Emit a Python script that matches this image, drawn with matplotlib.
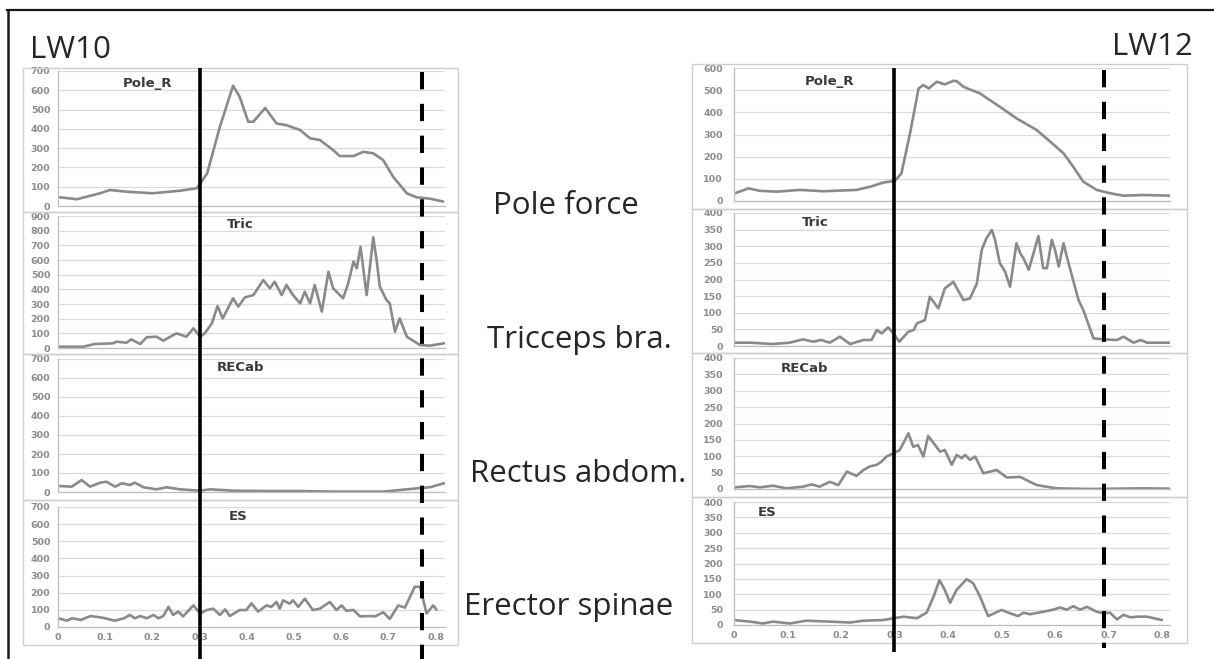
import matplotlib
matplotlib.use("Agg")
import matplotlib.pyplot as plt
from matplotlib.lines import Line2D
from matplotlib.patches import Rectangle

# ---------------------------------------------------------------- data
# LW10 (left column): time [s] and signal values
lw10_pole_t = [0.004, 0.04, 0.089, 0.11, 0.146, 0.20, 0.258, 0.294, 0.316, 0.343, 0.371, 0.385,
               0.403, 0.414, 0.439, 0.463, 0.484, 0.513, 0.534, 0.555, 0.583, 0.597, 0.626,
               0.647, 0.668, 0.689, 0.710, 0.739, 0.760, 0.788, 0.816]
lw10_pole_v = [45, 35, 66, 83, 74, 66, 79, 92, 169, 411, 624, 566, 437, 437, 508, 428, 419, 394,
               351, 342, 290, 259, 259, 281, 273, 238, 152, 66, 45, 38, 23]

lw10_tric_t = [0.0, 0.054, 0.077, 0.117, 0.124, 0.145, 0.155, 0.174, 0.188, 0.209, 0.223, 0.251,
               0.272, 0.287, 0.301, 0.311, 0.326, 0.338, 0.349, 0.371, 0.382, 0.396, 0.414,
               0.435, 0.449, 0.459, 0.474, 0.484, 0.498, 0.513, 0.523, 0.534, 0.544, 0.559,
               0.573, 0.583, 0.604, 0.615, 0.626, 0.633, 0.641, 0.654, 0.661, 0.668, 0.675,
               0.682, 0.696, 0.703, 0.714, 0.724, 0.739, 0.767, 0.788, 0.818]
lw10_tric_v = [9, 9, 27, 32, 43, 36, 59, 27, 73, 77, 50, 100, 77, 134, 77, 100, 168, 286, 202,
               339, 282, 345, 361, 463, 407, 452, 361, 430, 361, 304, 384, 304, 430, 248, 520,
               407, 339, 441, 589, 543, 690, 361, 554, 754, 600, 418, 327, 304, 111, 202, 77,
               20, 16, 32]

lw10_rec_t = [0.0, 0.029, 0.05, 0.068, 0.089, 0.103, 0.121, 0.135, 0.152, 0.163, 0.181, 0.209,
              0.23, 0.258, 0.30, 0.322, 0.371, 0.442, 0.513, 0.583, 0.689, 0.76, 0.788, 0.818]
lw10_rec_v = [32, 28, 63, 28, 49, 54, 28, 46, 37, 49, 25, 14, 25, 14, 7, 14, 7, 5, 5, 2, 2, 19,
              25, 46]

lw10_es_t = [0.0, 0.019, 0.03, 0.048, 0.069, 0.09, 0.10, 0.12, 0.14, 0.152, 0.163, 0.174, 0.188,
             0.202, 0.213, 0.223, 0.234, 0.244, 0.255, 0.265, 0.287, 0.301, 0.315, 0.329, 0.343,
             0.354, 0.364, 0.385, 0.399, 0.41, 0.424, 0.442, 0.452, 0.463, 0.47, 0.477, 0.491,
             0.498, 0.509, 0.523, 0.54, 0.555, 0.576, 0.59, 0.601, 0.611, 0.626, 0.64, 0.661,
             0.672, 0.689, 0.703, 0.721, 0.735, 0.756, 0.767, 0.781, 0.795, 0.802]
lw10_es_v = [51, 37, 51, 41, 64, 56, 51, 37, 51, 70, 51, 64, 51, 70, 51, 64, 117, 70, 90, 62,
             126, 79, 99, 107, 70, 103, 64, 99, 99, 138, 90, 126, 117, 146, 107, 156, 136, 156,
             117, 165, 99, 107, 146, 99, 126, 95, 99, 62, 64, 62, 86, 47, 126, 113, 235, 235,
             79, 126, 101]

# LW12 (right column)
lw12_pole_t = [0.002, 0.027, 0.048, 0.08, 0.123, 0.167, 0.229, 0.254, 0.279, 0.301, 0.313, 0.329,
               0.345, 0.354, 0.364, 0.379, 0.394, 0.41, 0.416, 0.429, 0.46, 0.497, 0.528, 0.566,
               0.591, 0.616, 0.634, 0.653, 0.678, 0.703, 0.728, 0.765, 0.815]
lw12_pole_v = [35, 57, 46, 42, 50, 44, 50, 64, 83, 91, 125, 305, 508, 523, 508, 538, 526, 542,
               541, 515, 485, 425, 373, 320, 268, 215, 155, 87, 50, 35, 24, 27, 24]

lw12_tric_t = [0.002, 0.03, 0.073, 0.104, 0.129, 0.148, 0.163, 0.179, 0.198, 0.217, 0.242, 0.257,
               0.267, 0.276, 0.288, 0.298, 0.309, 0.326, 0.336, 0.342, 0.357, 0.366, 0.382,
               0.394, 0.41, 0.429, 0.441, 0.454, 0.463, 0.472, 0.482, 0.488, 0.497, 0.507,
               0.516, 0.528, 0.535, 0.541, 0.551, 0.569, 0.578, 0.585, 0.594, 0.60, 0.607,
               0.616, 0.622, 0.644, 0.653, 0.672, 0.691, 0.716, 0.728, 0.747, 0.76, 0.772, 0.815]
lw12_tric_v = [10, 10, 6, 10, 20, 13, 18, 10, 28, 6, 18, 18, 48, 38, 56, 38, 13, 43, 48, 68,
               78, 148, 113, 173, 193, 138, 143, 188, 289, 324, 349, 319, 249, 223, 178, 309,
               279, 264, 229, 331, 234, 234, 319, 289, 239, 309, 269, 138, 108, 23, 20, 18, 28,
               10, 18, 10, 10]

lw12_rec_t = [0.0, 0.03, 0.048, 0.073, 0.098, 0.129, 0.145, 0.16, 0.179, 0.195, 0.211, 0.229,
              0.242, 0.254, 0.267, 0.276, 0.285, 0.298, 0.31, 0.326, 0.335, 0.344, 0.354, 0.363,
              0.376, 0.385, 0.394, 0.407, 0.416, 0.426, 0.432, 0.441, 0.451, 0.466, 0.491, 0.51,
              0.535, 0.553, 0.566, 0.603, 0.666, 0.76, 0.815]
lw12_rec_v = [5, 9, 5, 10, 2, 7, 14, 7, 22, 12, 53, 40, 58, 69, 74, 84, 99, 109, 119, 170, 129,
              134, 99, 162, 134, 114, 119, 74, 104, 94, 104, 89, 99, 48, 58, 35, 37, 22, 12, 2,
              0, 2, 1]

lw12_es_t = [0.0, 0.03, 0.054, 0.073, 0.104, 0.135, 0.179, 0.217, 0.242, 0.279, 0.298, 0.317,
             0.342, 0.36, 0.373, 0.384, 0.394, 0.404, 0.416, 0.435, 0.447, 0.46, 0.475, 0.5,
             0.516, 0.531, 0.541, 0.553, 0.578, 0.597, 0.609, 0.622, 0.634, 0.647, 0.66, 0.678,
             0.691, 0.703, 0.716, 0.728, 0.741, 0.753, 0.772, 0.80]
lw12_es_v = [16, 11, 5, 11, 5, 14, 11, 8, 14, 16, 22, 27, 22, 40, 92, 146, 114, 72, 114, 149,
             136, 92, 29, 49, 38, 29, 40, 35, 43, 50, 57, 50, 61, 50, 59, 43, 38, 40, 18, 33,
             25, 27, 27, 16]

panel_titles = ["Pole_R", "Tric", "RECab", "ES"]
muscle_labels = ["Pole force", "Tricceps bra.", "Rectus abdom.", "Erector spinae"]
subjects = ["LW10", "LW12"]
x_ticks = [0, 0.1, 0.2, 0.3, 0.4, 0.5, 0.6, 0.7, 0.8]
x_tick_labels = ["0", "0.1", "0.2", "0.3", "0.4", "0.5", "0.6", "0.7", "0.8"]
lw10_ymax = [700, 900, 700, 700]
lw12_ymax = [600, 400, 400, 400]
lw12_ystep = [100, 50, 50, 50]
lw10_ystep = [100, 100, 100, 100]

# phase markers (s): pole plant (solid) and pole release (dashed)
lw10_onset, lw10_release = 0.3, 0.771
lw12_onset, lw12_release = 0.3, 0.691

# ---------------------------------------------------------------- figure
W, H = 1214, 659
fig = plt.figure(figsize=(W / 100, H / 100), dpi=100)
fig.patch.set_facecolor("white")


def fx(px):
    return px / W


def fy(py):
    return 1 - py / H


LINE_C = "#8a8a8a"
GRID_C = "#dadada"
TICK_C = "#8c8c8c"
FRAME_C = "#cfcfcf"


def make_panel(x0, x1, ytop, yzero, xmax, ymax, ystep, t, v, bottom, tick_pad):
    ax = fig.add_axes([fx(x0), fy(yzero), fx(x1) - fx(x0), (yzero - ytop) / H])
    ax.plot(t, v, color=LINE_C, lw=1.9, solid_joinstyle="round", solid_capstyle="round")
    ax.set_xlim(0, xmax)
    ax.set_ylim(0, ymax)
    ax.set_yticks(list(range(0, ymax + 1, ystep)))
    ax.yaxis.grid(True, color=GRID_C, lw=0.9)
    ax.set_axisbelow(True)
    ax.patch.set_alpha(0)
    for s in ("top", "right"):
        ax.spines[s].set_visible(False)
    for s in ("left", "bottom"):
        ax.spines[s].set_color("#bdbdbd")
        ax.spines[s].set_linewidth(0.9)
    ax.tick_params(axis="y", length=0, pad=tick_pad, labelsize=6.8, labelcolor=TICK_C)
    for lab in ax.get_yticklabels():
        lab.set_fontweight("bold")
    if bottom:
        ax.set_xticks(x_ticks)
        ax.set_xticklabels(x_tick_labels)
        ax.tick_params(axis="x", length=0, pad=4, labelsize=6.8, labelcolor=TICK_C)
        for lab in ax.get_xticklabels():
            lab.set_fontweight("bold")
    else:
        ax.set_xticks([])
    return ax


def frame(x0, x1, y0, y1):
    fig.add_artist(Rectangle((fx(x0), fy(y1)), fx(x1) - fx(x0), (y1 - y0) / H,
                             transform=fig.transFigure, fill=False, ec=FRAME_C, lw=1.0))


# left column (LW10)
lw10_series = [(lw10_pole_t, lw10_pole_v), (lw10_tric_t, lw10_tric_v),
               (lw10_rec_t, lw10_rec_v), (lw10_es_t, lw10_es_v)]
left_y = [(71, 206), (216, 348), (359, 492), (507, 627)]
left_frames = [(68, 212), (212, 354), (354, 500), (500, 645)]
left_title_pos = [(148, 83), (240, 224), (240, 367), (238, 516)]
left_axes = []
for i, (t, v) in enumerate(lw10_series):
    frame(23, 458, *left_frames[i])
    ax = make_panel(58, 445, left_y[i][0], left_y[i][1], 0.82, lw10_ymax[i], lw10_ystep[i],
                    t, v, i == 3, 5.5)
    left_axes.append(ax)
    fig.text(fx(left_title_pos[i][0]), fy(left_title_pos[i][1]), panel_titles[i],
             ha="center", va="center", fontsize=9.5, fontweight="bold", color="#3a3a3a")

# right column (LW12)
lw12_series = [(lw12_pole_t, lw12_pole_v), (lw12_tric_t, lw12_tric_v),
               (lw12_rec_t, lw12_rec_v), (lw12_es_t, lw12_es_v)]
right_y = [(68, 201), (213, 346), (358, 489), (502, 625)]
right_frames = [(64, 209), (209, 353), (353, 497), (497, 643)]
right_title_pos = [(829, 82), (815, 222), (804, 368), (767, 512)]
right_axes = []
for i, (t, v) in enumerate(lw12_series):
    frame(692, 1187, *right_frames[i])
    ax = make_panel(734, 1170, right_y[i][0], right_y[i][1], 0.815, lw12_ymax[i],
                    lw12_ystep[i], t, v, i == 3, 8)
    right_axes.append(ax)
    fig.text(fx(right_title_pos[i][0]), fy(right_title_pos[i][1]), panel_titles[i],
             ha="center", va="center", fontsize=9.5, fontweight="bold", color="#3a3a3a")


# phase marker lines spanning each column
def marker_line(ax, xval, top_px, bottom_px, dashed):
    xd = ax.transData.transform((xval, 0))
    xf = fig.transFigure.inverted().transform(xd)[0]
    if dashed:
        ln = Line2D([xf, xf], [fy(top_px), fy(bottom_px)], transform=fig.transFigure,
                    color="black", lw=2.9, linestyle=(0, (4.3, 3.6)), solid_capstyle="butt",
                    dash_capstyle="butt")
    else:
        ln = Line2D([xf, xf], [fy(top_px), fy(bottom_px)], transform=fig.transFigure,
                    color="black", lw=2.6, solid_capstyle="butt")
    fig.add_artist(ln)


marker_line(left_axes[0], lw10_onset, 68, 660, False)
marker_line(left_axes[0], lw10_release, 72, 660, True)
marker_line(right_axes[0], lw12_onset, 68, 652, False)
marker_line(right_axes[0], lw12_release, 70, 648, True)

# headings and row labels
BIG = dict(family="Open Sans", fontsize=22.5, color="#262626")
fig.text(fx(30), fy(58), subjects[0], ha="left", va="baseline", **BIG)
fig.text(fx(1112), fy(55), subjects[1], ha="left", va="baseline", **BIG)
label_pos = [(493, 214), (487, 348), (470, 482), (464, 615)]
for (px, py), txt in zip(label_pos, muscle_labels):
    fig.text(fx(px), fy(py), txt, ha="left", va="baseline", **BIG)

# outer border
fig.add_artist(Line2D([fx(8), fx(8)], [fy(10), fy(660)], transform=fig.transFigure,
                      color="#1a1a1a", lw=1.8))
fig.add_artist(Line2D([fx(7), fx(1215)], [fy(10), fy(10)], transform=fig.transFigure,
                      color="#1a1a1a", lw=1.6))

fig.savefig("out.png", dpi=100, facecolor="white")
